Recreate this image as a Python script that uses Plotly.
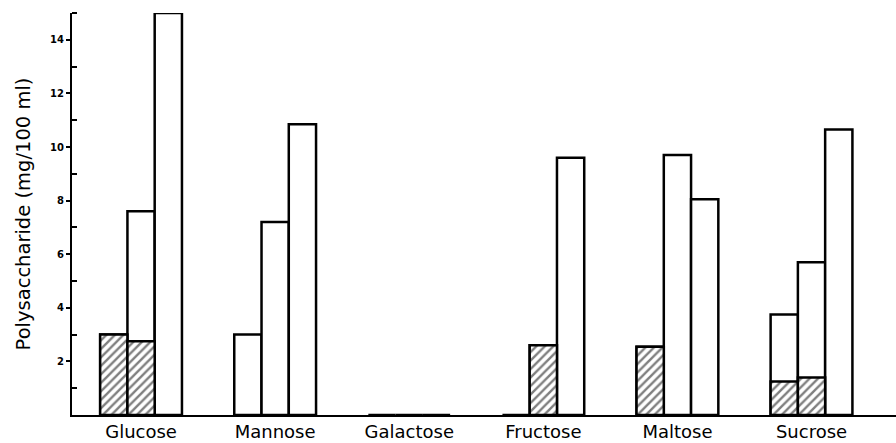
import plotly.graph_objects as go

categories = ["Glucose", "Mannose", "Galactose", "Fructose", "Maltose", "Sucrose"]

# Total polysaccharide per bar (three bars per sugar)
total_1 = [3.0, 3.0, 0.0, 0.0, 2.55, 3.75]
total_2 = [7.6, 7.2, 0.0, 2.6, 9.7, 5.7]
total_3 = [15.0, 10.85, 0.0, 9.6, 8.05, 10.65]

# Hatched portion of each bar (None = no hatched part)
hatched_1 = [3.0, None, None, None, 2.55, 1.25]
hatched_2 = [2.75, None, None, 2.6, None, 1.4]

y_ticks = [2, 4, 6, 8, 10, 12, 14]
y_minor = [1, 3, 5, 7, 9, 11, 13, 15]

fig = go.Figure()
for i, vals in enumerate([total_1, total_2, total_3]):
    fig.add_trace(go.Bar(
        x=categories, y=vals, offsetgroup=str(i),
        marker=dict(color="white", line=dict(color="black", width=2.5)),
        showlegend=False, hoverinfo="skip"))
for i, vals in enumerate([hatched_1, hatched_2]):
    fig.add_trace(go.Bar(
        x=categories, y=vals, offsetgroup=str(i),
        marker=dict(color="white", line=dict(color="black", width=2.5),
                    pattern=dict(shape="/", fgcolor="black", bgcolor="white",
                                 size=6, solidity=0.4)),
        showlegend=False, hoverinfo="skip"))

fig.update_layout(
    width=896, height=443,
    margin=dict(l=72, r=0, t=13, b=28),
    barmode="group", bargap=0.39, bargroupgap=0,
    plot_bgcolor="white", paper_bgcolor="white",
    font=dict(family="DejaVu Sans, sans-serif", color="black"),
    xaxis=dict(
        type="category", range=[-0.515, 5.63],
        showline=True, linecolor="black", linewidth=1.5,
        ticks="", showgrid=False, zeroline=False,
        tickfont=dict(size=18, color="black"),
    ),
    yaxis=dict(
        range=[0, 15], tickvals=y_ticks, ticktext=[str(v) for v in y_ticks],
        showline=True, linecolor="black", linewidth=2,
        ticks="outside", ticklen=4, tickwidth=1.5, tickcolor="black",
        minor=dict(tickvals=y_minor, ticks="inside", ticklen=5, tickwidth=1.5, tickcolor="black"),
        showgrid=False, zeroline=False,
        tickfont=dict(size=10, color="black", family="DejaVu Sans, sans-serif", weight="bold"),
        title=dict(text="Polysaccharide (mg/100 ml)", font=dict(size=19.5, color="black"), standoff=14),
    ),
)
fig.write_html("out.html")
